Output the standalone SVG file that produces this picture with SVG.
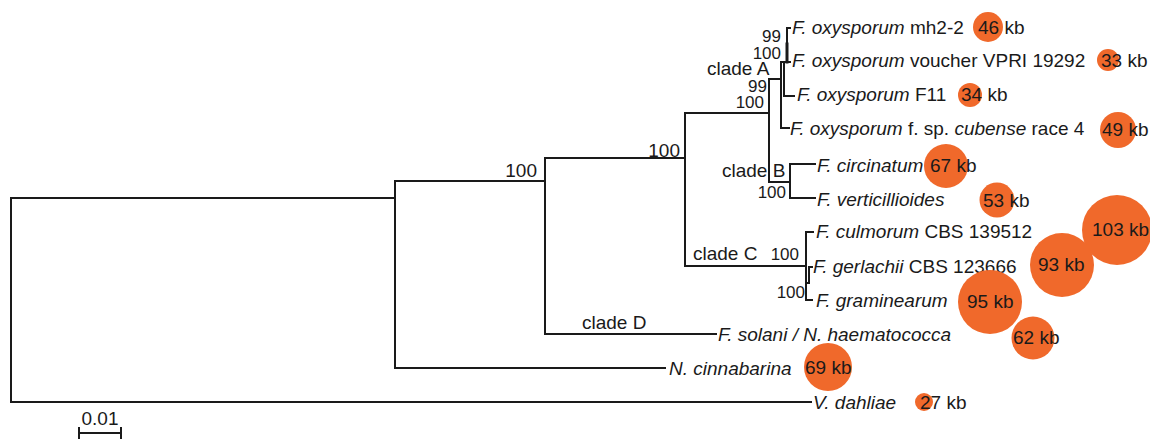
<svg xmlns="http://www.w3.org/2000/svg" width="1150" height="439" viewBox="0 0 1150 439">
<style>
text{font-family:"Liberation Sans",Arial,sans-serif;font-size:19px;fill:#1a1a1a}
.sp{font-style:italic}
.sm{font-size:17px}
.bub{fill:#f0692b}
.br{fill:none;stroke:#1a1a1a;stroke-width:2;stroke-linecap:square}
</style>
<rect width="1150" height="439" fill="#ffffff"/>
<g id="connectors" class="br">
<path d="M395,198 H11 V402 H811"/>
<path d="M395,181 V368 M395,181 H545 M395,368 H665"/>
<path d="M545,158 V334 M545,158 H685 M545,334 H716"/>
<path d="M685,113 V266 M685,113 H769 M685,266 H806"/>
<path d="M769,79 V182 M769,79 H781 M769,182 H790"/>
<path d="M790,164 V198 M790,164 H815 M790,198 H815"/>
<path d="M781,62 V128 H789 M781,62 H784 V96 H794 M784,62 H787 M787,28 V62 M787,28 H790 M787,62 H790"/>
<path d="M787,44 V62" stroke-width="3"/>
<path d="M806,232 V300 M806,232 H813 M806,300 H812 M806,283 H809 V267 H812"/>
<path d="M79,433 H121 M79,428 V438 M121,428 V438"/>
</g>
<g id="supports">
<text x="537" y="177" text-anchor="end">100</text>
<text x="680" y="157" text-anchor="end">100</text>
<text class="sm" x="781" y="42" text-anchor="end">99</text>
<text class="sm" x="781" y="59" text-anchor="end">100</text>
<text class="sm" x="767" y="92" text-anchor="end">99</text>
<text class="sm" x="764" y="108" text-anchor="end">100</text>
<text class="sm" x="786" y="198" text-anchor="end">100</text>
<text class="sm" x="799" y="260" text-anchor="end">100</text>
<text class="sm" x="805" y="298" text-anchor="end">100</text>
</g>
<g id="clade-labels">
<text x="707" y="75">clade A</text>
<text x="722" y="177">clade B</text>
<text x="693" y="260">clade C</text>
<text x="582" y="329">clade D</text>
</g>
<g id="leaf-mh2-2">
<text x="792" y="34"><tspan class="sp">F. oxysporum</tspan> mh2-2</text>
<circle class="bub" cx="988" cy="27" r="15"/>
<text x="978" y="34">46 kb</text>
</g>
<g id="leaf-voucher">
<text x="792" y="67"><tspan class="sp">F. oxysporum</tspan> voucher VPRI 19292</text>
<circle class="bub" cx="1108" cy="60" r="11"/>
<text x="1101" y="67">33 kb</text>
</g>
<g id="leaf-F11">
<text x="797" y="101"><tspan class="sp">F. oxysporum</tspan> F11</text>
<circle class="bub" cx="970" cy="95" r="12"/>
<text x="961" y="101">34 kb</text>
</g>
<g id="leaf-cubense">
<text x="790" y="135"><tspan class="sp">F. oxysporum</tspan> f. sp. <tspan class="sp">cubense</tspan> race 4</text>
<circle class="bub" cx="1118" cy="130" r="18"/>
<text x="1102" y="136">49 kb</text>
</g>
<g id="leaf-circinatum">
<text class="sp" x="817" y="172">F. circinatum</text>
<circle class="bub" cx="946" cy="166" r="22"/>
<text x="930" y="172">67 kb</text>
</g>
<g id="leaf-verticillioides">
<text class="sp" x="817" y="206">F. verticillioides</text>
<circle class="bub" cx="997" cy="200" r="17.5"/>
<text x="983" y="207">53 kb</text>
</g>
<g id="leaf-culmorum">
<text x="816" y="238"><tspan class="sp">F. culmorum</tspan> CBS 139512</text>
<circle class="bub" cx="1117" cy="230" r="35"/>
<text x="1092" y="236">103 kb</text>
</g>
<g id="leaf-gerlachii">
<text x="813" y="273"><tspan class="sp">F. gerlachii</tspan> CBS 123666</text>
<circle class="bub" cx="1062" cy="265" r="32"/>
<text x="1038" y="271">93 kb</text>
</g>
<g id="leaf-graminearum">
<text class="sp" x="816" y="307">F. graminearum</text>
<circle class="bub" cx="990" cy="302" r="32"/>
<text x="967" y="308">95 kb</text>
</g>
<g id="leaf-solani">
<text class="sp" x="718" y="341">F. solani / N. haematococca</text>
<circle class="bub" cx="1033" cy="338" r="21.5"/>
<text x="1013" y="344">62 kb</text>
</g>
<g id="leaf-cinnabarina">
<text class="sp" x="669" y="375">N. cinnabarina</text>
<circle class="bub" cx="828" cy="367" r="24"/>
<text x="805" y="374">69 kb</text>
</g>
<g id="leaf-dahliae">
<text class="sp" x="813" y="409">V. dahliae</text>
<circle class="bub" cx="924" cy="402" r="9"/>
<text x="920" y="409">27 kb</text>
</g>
<g id="scale-bar">
<text x="100" y="425" text-anchor="middle">0.01</text>
</g>
</svg>
